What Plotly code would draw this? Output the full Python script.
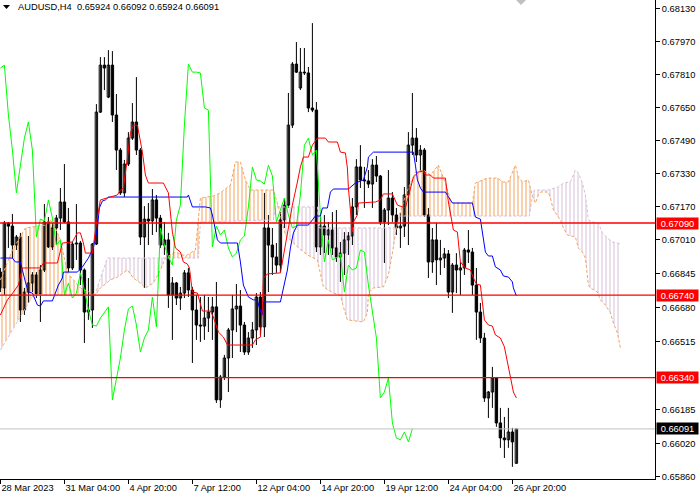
import plotly.graph_objects as go

# AUDUSD H4 candles, bar 0 = 28 Mar 2023 12:00, one value per bar
opens = [0.66852, 0.66775, 0.67090, 0.67075, 0.66983, 0.67022, 0.66668, 0.66755, 0.66799, 0.66838,
         0.66746, 0.66862, 0.67095, 0.66974, 0.67066, 0.67114, 0.67192, 0.67095, 0.66872, 0.66988,
         0.66993, 0.66862, 0.66658, 0.66668, 0.66988, 0.67628, 0.67856, 0.67701, 0.67856, 0.67614,
         0.67444, 0.67236, 0.67376, 0.67502, 0.67580, 0.67444, 0.67022, 0.67109, 0.67100, 0.67202,
         0.67114, 0.66983, 0.67008, 0.66741, 0.66799, 0.66726, 0.66750, 0.66848, 0.66765, 0.66668,
         0.66595, 0.66590, 0.66629, 0.66658, 0.66683, 0.66232, 0.66343, 0.66435, 0.66571, 0.66673,
         0.66687, 0.66595, 0.66464, 0.66532, 0.66571, 0.66731, 0.66586, 0.67066, 0.66983, 0.66925,
         0.66886, 0.67105, 0.67177, 0.67565, 0.67861, 0.67745, 0.67822, 0.67818, 0.67648, 0.67638,
         0.66974, 0.67075, 0.67032, 0.67056, 0.66969, 0.66925, 0.66944, 0.67008, 0.67027, 0.67168,
         0.67362, 0.67299, 0.67294, 0.67279, 0.67371, 0.67318, 0.67095, 0.67153, 0.67211, 0.67129,
         0.67066, 0.67075, 0.67226, 0.67468, 0.67502, 0.67420, 0.67444, 0.67129, 0.66901, 0.67008,
         0.66911, 0.66920, 0.66940, 0.66755, 0.66886, 0.66862, 0.66872, 0.66959, 0.66949, 0.66789,
         0.66658, 0.66532, 0.66241, 0.66270, 0.66338, 0.66120, 0.66047, 0.66038, 0.66076, 0.65924]
highs = [0.66872, 0.67100, 0.67095, 0.67134, 0.67032, 0.67042, 0.66775, 0.67027, 0.66852, 0.66852,
         0.66886, 0.67182, 0.67119, 0.67090, 0.67129, 0.67260, 0.67376, 0.67163, 0.66998, 0.67182,
         0.67003, 0.66870, 0.66823, 0.66993, 0.67667, 0.67895, 0.67895, 0.67929, 0.67924, 0.67716,
         0.67454, 0.67396, 0.67531, 0.67672, 0.67798, 0.67454, 0.67172, 0.67187, 0.67255, 0.67226,
         0.67129, 0.67095, 0.67042, 0.66828, 0.66804, 0.66780, 0.66862, 0.66872, 0.66780, 0.66741,
         0.66731, 0.66741, 0.66731, 0.66731, 0.66804, 0.66353, 0.66450, 0.66581, 0.66741, 0.66794,
         0.66765, 0.66610, 0.66561, 0.66610, 0.66750, 0.66755, 0.67236, 0.67129, 0.67066, 0.66993,
         0.67143, 0.67211, 0.67721, 0.67871, 0.67968, 0.67939, 0.67939, 0.67847, 0.68060, 0.67677,
         0.67129, 0.67129, 0.67095, 0.67143, 0.67153, 0.66998, 0.67046, 0.67046, 0.67211, 0.67400,
         0.67468, 0.67362, 0.67347, 0.67400, 0.67415, 0.67323, 0.67163, 0.67347, 0.67240, 0.67163,
         0.67139, 0.67265, 0.67531, 0.67721, 0.67551, 0.67468, 0.67454, 0.67163, 0.67066, 0.67090,
         0.67008, 0.66969, 0.66959, 0.66896, 0.66944, 0.66901, 0.66969, 0.67056, 0.66969, 0.66872,
         0.66702, 0.66557, 0.66275, 0.66392, 0.66343, 0.66193, 0.66149, 0.66193, 0.66096, 0.66092]
lows = [0.66755, 0.66741, 0.66969, 0.66920, 0.66959, 0.66610, 0.66644, 0.66702, 0.66755, 0.66726,
        0.66610, 0.66852, 0.66969, 0.66959, 0.66983, 0.67056, 0.67090, 0.66852, 0.66862, 0.66911,
        0.66789, 0.66508, 0.66620, 0.66581, 0.66983, 0.67624, 0.67735, 0.67696, 0.67580, 0.67347,
        0.67226, 0.67216, 0.67366, 0.67493, 0.67420, 0.66983, 0.66775, 0.66983, 0.67032, 0.67046,
        0.66969, 0.66935, 0.66678, 0.66523, 0.66692, 0.66668, 0.66726, 0.66731, 0.66411, 0.66523,
        0.66513, 0.66523, 0.66561, 0.66523, 0.66217, 0.66193, 0.66329, 0.66270, 0.66435, 0.66561,
        0.66464, 0.66450, 0.66450, 0.66484, 0.66498, 0.66547, 0.66537, 0.66755, 0.66838, 0.66848,
        0.66852, 0.67066, 0.67163, 0.67551, 0.67818, 0.67735, 0.67808, 0.67628, 0.67628, 0.66949,
        0.66935, 0.66944, 0.66935, 0.66935, 0.66901, 0.66804, 0.66838, 0.66935, 0.66983, 0.67129,
        0.67260, 0.67163, 0.67260, 0.67163, 0.67289, 0.67080, 0.66896, 0.67080, 0.67095, 0.67032,
        0.66969, 0.67022, 0.66983, 0.67420, 0.67386, 0.67337, 0.67119, 0.66823, 0.66848, 0.66789,
        0.66838, 0.66872, 0.66726, 0.66654, 0.66750, 0.66741, 0.66838, 0.66896, 0.66741, 0.66523,
        0.66508, 0.66222, 0.66144, 0.66193, 0.66101, 0.65999, 0.65950, 0.65999, 0.65907, 0.65924]
closes = [0.66775, 0.67090, 0.67075, 0.66983, 0.67022, 0.66668, 0.66755, 0.66799, 0.66838, 0.66746,
          0.66862, 0.67095, 0.66974, 0.67066, 0.67114, 0.67192, 0.67095, 0.66872, 0.66988, 0.66993,
          0.66862, 0.66658, 0.66668, 0.66988, 0.67628, 0.67856, 0.67842, 0.67856, 0.67614, 0.67444,
          0.67236, 0.67376, 0.67502, 0.67580, 0.67444, 0.67022, 0.67109, 0.67100, 0.67202, 0.67114,
          0.66983, 0.67008, 0.66741, 0.66799, 0.66726, 0.66750, 0.66848, 0.66765, 0.66668, 0.66595,
          0.66590, 0.66629, 0.66658, 0.66683, 0.66232, 0.66343, 0.66435, 0.66571, 0.66673, 0.66687,
          0.66595, 0.66464, 0.66532, 0.66571, 0.66731, 0.66586, 0.67066, 0.66983, 0.66925, 0.66886,
          0.67105, 0.67177, 0.67565, 0.67861, 0.67822, 0.67822, 0.67818, 0.67648, 0.67638, 0.66974,
          0.67075, 0.67032, 0.67056, 0.66969, 0.66925, 0.66944, 0.67008, 0.67027, 0.67168, 0.67362,
          0.67299, 0.67294, 0.67279, 0.67371, 0.67318, 0.67095, 0.67153, 0.67211, 0.67129, 0.67066,
          0.67075, 0.67226, 0.67468, 0.67502, 0.67420, 0.67444, 0.67129, 0.66901, 0.67008, 0.66911,
          0.66920, 0.66940, 0.66755, 0.66886, 0.66862, 0.66872, 0.66959, 0.66949, 0.66789, 0.66658,
          0.66532, 0.66241, 0.66270, 0.66338, 0.66120, 0.66047, 0.66038, 0.66076, 0.66028, 0.66091]

# Ichimoku lines as (bar, price) points
tenkan = [(0, 0.66644), (1.75, 0.66717), (3.25, 0.66755), (4.5, 0.66789), (5.5, 0.66872), (10, 0.66872),
          (10.75, 0.66896), (14.25, 0.66896), (15.5, 0.66993), (18, 0.66998), (19.25, 0.67042), (20, 0.67042),
          (20.75, 0.66993), (21.25, 0.66944), (23, 0.66944), (24, 0.67090), (25, 0.67202), (28, 0.67221),
          (29.25, 0.67226), (30, 0.67250), (30.75, 0.67260), (31.75, 0.67405), (32.5, 0.67527), (33.25, 0.67565),
          (34.25, 0.67565), (35.5, 0.67434), (36.25, 0.67323), (37, 0.67284), (40.75, 0.67284), (42, 0.67236),
          (42.5, 0.67153), (43, 0.67046), (43.75, 0.66969), (45, 0.66949), (45.75, 0.66901), (46.75, 0.66891),
          (47.25, 0.66872), (48, 0.66755), (49.25, 0.66750), (50.5, 0.66663), (52.5, 0.66663), (53.25, 0.66634),
          (54.5, 0.66561), (55.75, 0.66537), (56.75, 0.66498), (63, 0.66498), (63.75, 0.66523), (65, 0.66537),
          (65.5, 0.66678), (65.75, 0.66823), (66.75, 0.66843), (70, 0.66848), (70.5, 0.66901), (71.25, 0.66983),
          (72, 0.67066), (73, 0.67177), (74.25, 0.67289), (75, 0.67362), (75.75, 0.67410), (77, 0.67410),
          (78, 0.67468), (79.25, 0.67502), (81.25, 0.67502), (82, 0.67483), (84.25, 0.67483), (85, 0.67434),
          (86.25, 0.67430), (86.75, 0.67357), (87, 0.67260), (87.5, 0.67129), (88, 0.67046), (88.25, 0.67095),
          (89.25, 0.67129), (89.5, 0.67187), (93.75, 0.67192), (95, 0.67202), (95.75, 0.67231), (98, 0.67231),
          (99.25, 0.67177), (101.25, 0.67163), (102.5, 0.67265), (103.25, 0.67313), (104.5, 0.67337),
          (105.75, 0.67342), (106.25, 0.67323), (107.5, 0.67323), (108.25, 0.67308), (111.25, 0.67308),
          (112, 0.67192), (113, 0.67080), (113.25, 0.67056), (114.25, 0.67046), (114.5, 0.66998), (115, 0.66901),
          (116.25, 0.66872), (117.5, 0.66862), (118.25, 0.66823), (119, 0.66794), (120, 0.66789), (120.5, 0.66707),
          (121, 0.66620), (122, 0.66595), (123, 0.66590), (123.75, 0.66547), (125, 0.66532), (126, 0.66489),
          (126.75, 0.66416), (127.5, 0.66338), (128.25, 0.66270), (129, 0.66241)]
kijun = [(0, 0.66920), (3, 0.66920), (3.75, 0.66901), (5, 0.66901), (6.25, 0.66804), (7, 0.66755), (8, 0.66750),
         (9.25, 0.66692), (10, 0.66687), (10.75, 0.66712), (13, 0.66712), (13.75, 0.66750), (14.5, 0.66789),
         (15.5, 0.66823), (15.75, 0.66852), (19.25, 0.66852), (20.5, 0.66877), (22, 0.66920), (23.25, 0.66969),
         (24.25, 0.67066), (24.75, 0.67163), (25.5, 0.67197), (26.25, 0.67202), (27, 0.67216), (46.75, 0.67216),
         (47, 0.67226), (48, 0.67168), (51.25, 0.67168), (52.5, 0.67163), (53, 0.67129), (53.75, 0.67066),
         (54.25, 0.67008), (55, 0.66993), (59.25, 0.66993), (60, 0.66901), (60.75, 0.66789), (62, 0.66731),
         (63.25, 0.66717), (64.25, 0.66717), (64.75, 0.66678), (65.5, 0.66644), (65.75, 0.66707), (70, 0.66707),
         (70.75, 0.66775), (71.75, 0.66862), (72.5, 0.66969), (73.25, 0.67042), (74.25, 0.67080), (77, 0.67080),
         (78, 0.67105), (78.75, 0.67124), (80, 0.67124), (80.5, 0.67163), (81.75, 0.67163), (82.5, 0.67240),
         (83.25, 0.67255), (87, 0.67255), (88.75, 0.67284), (90.75, 0.67299), (91.75, 0.67362), (92, 0.67410),
         (93.25, 0.67434), (103.25, 0.67434), (103.75, 0.67371), (104.25, 0.67299), (105, 0.67260),
         (105.75, 0.67240), (111.25, 0.67240), (112, 0.67216), (113, 0.67187), (118, 0.67187), (118.75, 0.67119),
         (120, 0.67109), (120.5, 0.67042), (121.25, 0.66949), (122, 0.66930), (123, 0.66930), (123.75, 0.66877),
         (125, 0.66862), (125.75, 0.66833), (127, 0.66828), (128, 0.66804), (128.25, 0.66775), (129, 0.66736)]
span_a = [(0, 0.66814), (3, 0.66959), (6.25, 0.67066), (11.25, 0.67080), (12.5, 0.67105), (13.75, 0.67066),
          (15, 0.67008), (15.5, 0.66959), (16.75, 0.66848), (20, 0.66775), (23.75, 0.66741), (25, 0.66775),
          (27.5, 0.66814), (29.25, 0.66828), (31.75, 0.66862), (33.25, 0.66823), (35, 0.66799), (36.25, 0.66775),
          (38.25, 0.66799), (40, 0.66862), (41.25, 0.66920), (43.75, 0.66949), (46.25, 0.66930), (48.75, 0.66959),
          (50, 0.67211), (53.25, 0.67221), (55, 0.67236), (57.5, 0.67274), (58.75, 0.67386), (60, 0.67386),
          (61.25, 0.67299), (62.5, 0.67250), (68.25, 0.67250), (69.5, 0.67168), (71.25, 0.67032), (74.25, 0.66974),
          (76.75, 0.66935), (79.25, 0.66911), (80, 0.66848), (80.75, 0.66780), (83.25, 0.66750), (85, 0.66741),
          (85.75, 0.66683), (86.75, 0.66620), (90.75, 0.66610), (91.75, 0.66654), (92, 0.66750), (93.25, 0.66775),
          (95.75, 0.66780), (97, 0.66838), (98, 0.66944), (99, 0.67066), (100, 0.67143), (100.75, 0.67192),
          (102, 0.67260), (103, 0.67299), (103.75, 0.67337), (105.75, 0.67347), (107.5, 0.67323), (109.5, 0.67371),
          (111.25, 0.67284), (112.5, 0.67202), (113.25, 0.67187), (118, 0.67187), (118.75, 0.67284),
          (121.75, 0.67308), (124.25, 0.67308), (125.75, 0.67289), (127, 0.67289), (127.5, 0.67313),
          (128.75, 0.67371), (129.5, 0.67313), (130.5, 0.67289), (132, 0.67299), (132.5, 0.67265), (133, 0.67221),
          (133.75, 0.67187), (134.5, 0.67226), (135, 0.67240), (137, 0.67240), (137.5, 0.67211), (138.25, 0.67153),
          (140, 0.67105), (140.75, 0.67066), (141.75, 0.67032), (143.75, 0.67022), (144.5, 0.66969),
          (145.5, 0.66949), (146.25, 0.66920), (147, 0.66789), (147.5, 0.66775), (149.25, 0.66755), (150, 0.66717),
          (151.25, 0.66692), (152.5, 0.66654), (153.25, 0.66605), (154.25, 0.66557), (155, 0.66484)]
span_b = [(0, 0.66474), (8.25, 0.66741), (23.75, 0.66741), (24.25, 0.66780), (26.75, 0.66920), (41.25, 0.66920),
          (49.5, 0.66920), (50, 0.67095), (68.25, 0.67105), (68.75, 0.67168), (69.5, 0.67168), (79.25, 0.67168),
          (79.75, 0.67066), (99, 0.67066), (99.75, 0.67124), (132.25, 0.67124), (133, 0.67221), (133.5, 0.67250),
          (137, 0.67250), (138, 0.67255), (139.5, 0.67265), (140.75, 0.67284), (142.5, 0.67289), (143.75, 0.67347),
          (144.5, 0.67333), (145.5, 0.67284), (146.25, 0.67226), (147, 0.67105), (148, 0.67095), (149.5, 0.67090),
          (150.5, 0.67042), (151.75, 0.67017), (153, 0.66998), (154.25, 0.66993), (155, 0.66988)]
cloud_breaks = [0, 23.75, 41.25, 69.5, 99, 133, 155]

date_ticks = [0, 16, 32, 48, 64, 80, 96, 112, 128]
date_labels = ["28 Mar 2023", "31 Mar 04:00", "4 Apr 20:00", "7 Apr 12:00", "12 Apr 04:00",
               "14 Apr 20:00", "19 Apr 12:00", "24 Apr 04:00", "26 Apr 20:00"]
price_ticks = [0.68130, 0.67970, 0.67810, 0.67650, 0.67490, 0.67330, 0.67170, 0.67010,
               0.66845, 0.66680, 0.66515, 0.66185, 0.66020, 0.65860]
levels = [0.67090, 0.66740, 0.66340]
bid = 0.66091
header = "AUDUSD,H4  0.65924 0.66092 0.65924 0.66091"

FONT = "Liberation Sans"
ORANGE = "#F4A460"
THISTLE = "#D8BFD8"

n = len(opens)
idx = list(range(n))
fig = go.Figure()

# candles: wicks then bodies
wx, wy = [], []
for i in idx:
    wx += [i, i, None]
    wy += [lows[i], highs[i], None]
fig.add_trace(go.Scatter(x=wx, y=wy, mode="lines", line=dict(color="black", width=1)))
fig.add_trace(go.Bar(
    x=idx,
    y=[max(abs(c - o), 0.00003) for o, c in zip(opens, closes)],
    base=[min(o, c) for o, c in zip(opens, closes)],
    width=0.6,
    marker=dict(color=["white" if c >= o else "black" for o, c in zip(opens, closes)],
                line=dict(color="black", width=1)),
))


def part(pts, lo, hi):
    sel = [p for p in pts if lo <= p[0] <= hi]
    return [p[0] for p in sel], [p[1] for p in sel]


# hatched cloud between span A and span B
for lo, hi in zip(cloud_breaks[:-1], cloud_breaks[1:]):
    ax, ay = part(span_a, lo, hi)
    bx, by = part(span_b, lo, hi)
    col = ORANGE if sum(ay) / len(ay) > sum(by) / len(by) else THISTLE
    fig.add_trace(go.Scatter(x=bx, y=by, mode="lines", line=dict(width=0)))
    fig.add_trace(go.Scatter(x=ax, y=ay, mode="lines", line=dict(width=0), fill="tonexty",
                             fillcolor="rgba(0,0,0,0)",
                             fillpattern=dict(shape="|", fgcolor=col, bgcolor="rgba(0,0,0,0)",
                                              size=4, solidity=0.5)))

fig.add_trace(go.Scatter(x=[p[0] for p in span_a], y=[p[1] for p in span_a], mode="lines",
                         line=dict(color=ORANGE, width=1, dash="3px,2px")))
fig.add_trace(go.Scatter(x=[p[0] for p in span_b], y=[p[1] for p in span_b], mode="lines",
                         line=dict(color=THISTLE, width=1, dash="3px,2px")))

# chikou = close shifted 26 bars back
fig.add_trace(go.Scatter(x=[i - 26 for i in idx[26:]], y=closes[26:], mode="lines",
                         line=dict(color="#00FF00", width=1)))
fig.add_trace(go.Scatter(x=[p[0] for p in kijun], y=[p[1] for p in kijun], mode="lines",
                         line=dict(color="#0000FF", width=1)))
fig.add_trace(go.Scatter(x=[p[0] for p in tenkan], y=[p[1] for p in tenkan], mode="lines",
                         line=dict(color="#FF0000", width=1)))

# horizontal levels and their price boxes
for lv in levels:
    fig.add_shape(type="line", xref="paper", x0=0, x1=1, y0=lv, y1=lv,
                  line=dict(color="#FF0000", width=1.3))
    fig.add_annotation(x=1, xref="paper", y=lv, yref="y", xanchor="left", xshift=1,
                       text=f"{lv:.5f}", showarrow=False, bgcolor="#FF0000",
                       width=41, height=11, borderpad=0,
                       font=dict(family=FONT, size=9.3, color="white"))
fig.add_shape(type="line", xref="paper", x0=0, x1=1, y0=bid, y1=bid,
              line=dict(color="#C0C0C0", width=1))
fig.add_annotation(x=1, xref="paper", y=bid, yref="y", xanchor="left", xshift=1,
                   text=f"{bid:.5f}", showarrow=False, bgcolor="black",
                   width=41, height=11, borderpad=0,
                   font=dict(family=FONT, size=9.3, color="white"))

# header text with its small triangle, and the grey shift marker at the top
fig.add_annotation(x=16 / 655, xref="paper", y=1 - 7 / 479, yref="paper", xanchor="left",
                   yanchor="middle", text=header, showarrow=False,
                   font=dict(family=FONT, size=9.3, color="black"))
fig.add_shape(type="path", xref="paper", yref="paper",
              path=f"M {3/655} {1-5/479} L {10/655} {1-5/479} L {6.5/655} {1-9/479} Z",
              fillcolor="black", line=dict(width=0))
fig.add_shape(type="path", xref="paper", yref="paper",
              path=f"M {516/655} 1 L {526/655} 1 L {521/655} {1-5/479} Z",
              fillcolor="#C0C0C0", line=dict(width=0))

fig.update_layout(
    width=700, height=500,
    margin=dict(l=0, r=45, t=0, b=21),
    plot_bgcolor="white", paper_bgcolor="white",
    showlegend=False, hovermode=False, barmode="overlay",
    font=dict(family=FONT, size=9.3, color="black"),
)
fig.update_xaxes(range=[-0.1, 163.65], tickvals=date_ticks, ticktext=date_labels,
                 ticks="outside", ticklen=4, tickcolor="black", showline=True,
                 linecolor="black", linewidth=1, showgrid=False, zeroline=False,
                 ticklabelposition="outside right")
fig.update_yaxes(range=[0.65848, 0.68172], side="right", tickvals=price_ticks, tickformat=".5f",
                 ticks="outside", ticklen=4, tickcolor="black", showline=True,
                 linecolor="black", linewidth=1, showgrid=False, zeroline=False)

fig.write_html("out.html", config={"displayModeBar": False},
               post_script="document.body.style.margin='0';")
